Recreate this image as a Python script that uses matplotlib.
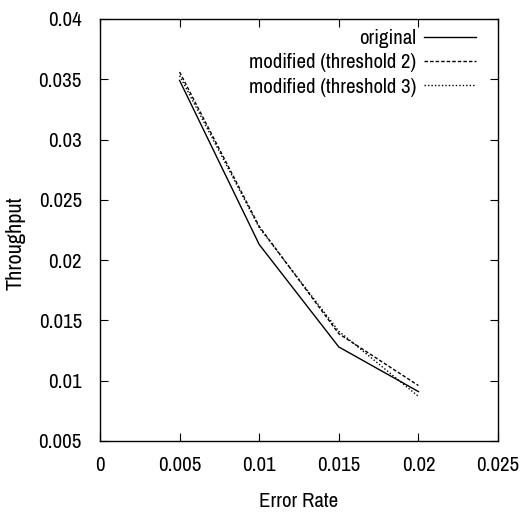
import matplotlib
matplotlib.use('Agg')
import matplotlib.pyplot as plt
from matplotlib import font_manager

names = {f.name for f in font_manager.fontManager.ttflist}
fam = 'DejaVu Sans'
for cand in ['Liberation Sans Narrow', 'Archivo Narrow', 'Roboto Condensed', 'Liberation Sans']:
    if cand in names:
        fam = cand
        break
plt.rcParams['font.family'] = [fam, 'DejaVu Sans']

error_rate = [0.005, 0.01, 0.015, 0.02]
original = [0.0349, 0.0213, 0.0128, 0.0091]
thresh2 = [0.0356, 0.0228, 0.0139, 0.0096]
thresh3 = [0.0353, 0.0227, 0.0141, 0.0087]

xticks = [0, 0.005, 0.01, 0.015, 0.02, 0.025]
xticklabels = ['0', '0.005', '0.01', '0.015', '0.02', '0.025']
yticks = [0.005, 0.01, 0.015, 0.02, 0.025, 0.03, 0.035, 0.04]
yticklabels = ['0.005', '0.01', '0.015', '0.02', '0.025', '0.03', '0.035', '0.04']

fig = plt.figure(figsize=(5.22, 5.19), dpi=100)
ax = fig.add_axes([100/522, 1-441/519, 398/522, 422/519])

ax.plot(error_rate, original, color='black', lw=1.0, label='original')
ax.plot(error_rate, thresh2, color='black', lw=1.0, ls=(0, (2.5, 1.5)),
        label='modified (threshold 2)')
ax.plot(error_rate, thresh3, color='black', lw=1.0, ls=(0, (1, 1.5)),
        label='modified (threshold 3)')

ax.set_xlim(0, 0.025)
ax.set_ylim(0.005, 0.04)
ax.set_xticks(xticks)
ax.set_xticklabels(xticklabels)
ax.set_yticks(yticks)
ax.set_yticklabels(yticklabels)
ax.tick_params(direction='in', length=6, width=0.8, top=True, right=True,
               labelsize=15)
ax.tick_params(axis='y', pad=13)
ax.tick_params(axis='x', pad=11)
for s in ax.spines.values():
    s.set_linewidth(1.0)

ax.set_xlabel('Error Rate', fontsize=15)
ax.set_ylabel('Throughput', fontsize=16)
ax.xaxis.set_label_coords(0.5, -0.12)
ax.yaxis.set_label_coords(-0.188, 0.469)

leg = ax.legend(loc='upper right', frameon=False, fontsize=15,
                markerfirst=False, handlelength=2.5, handletextpad=0.38,
                labelspacing=0.25, borderpad=0, borderaxespad=0,
                bbox_to_anchor=(0.945, 0.976))
for t in leg.get_texts():
    t.set_ha('right')

fig.savefig('out.png', dpi=100)
